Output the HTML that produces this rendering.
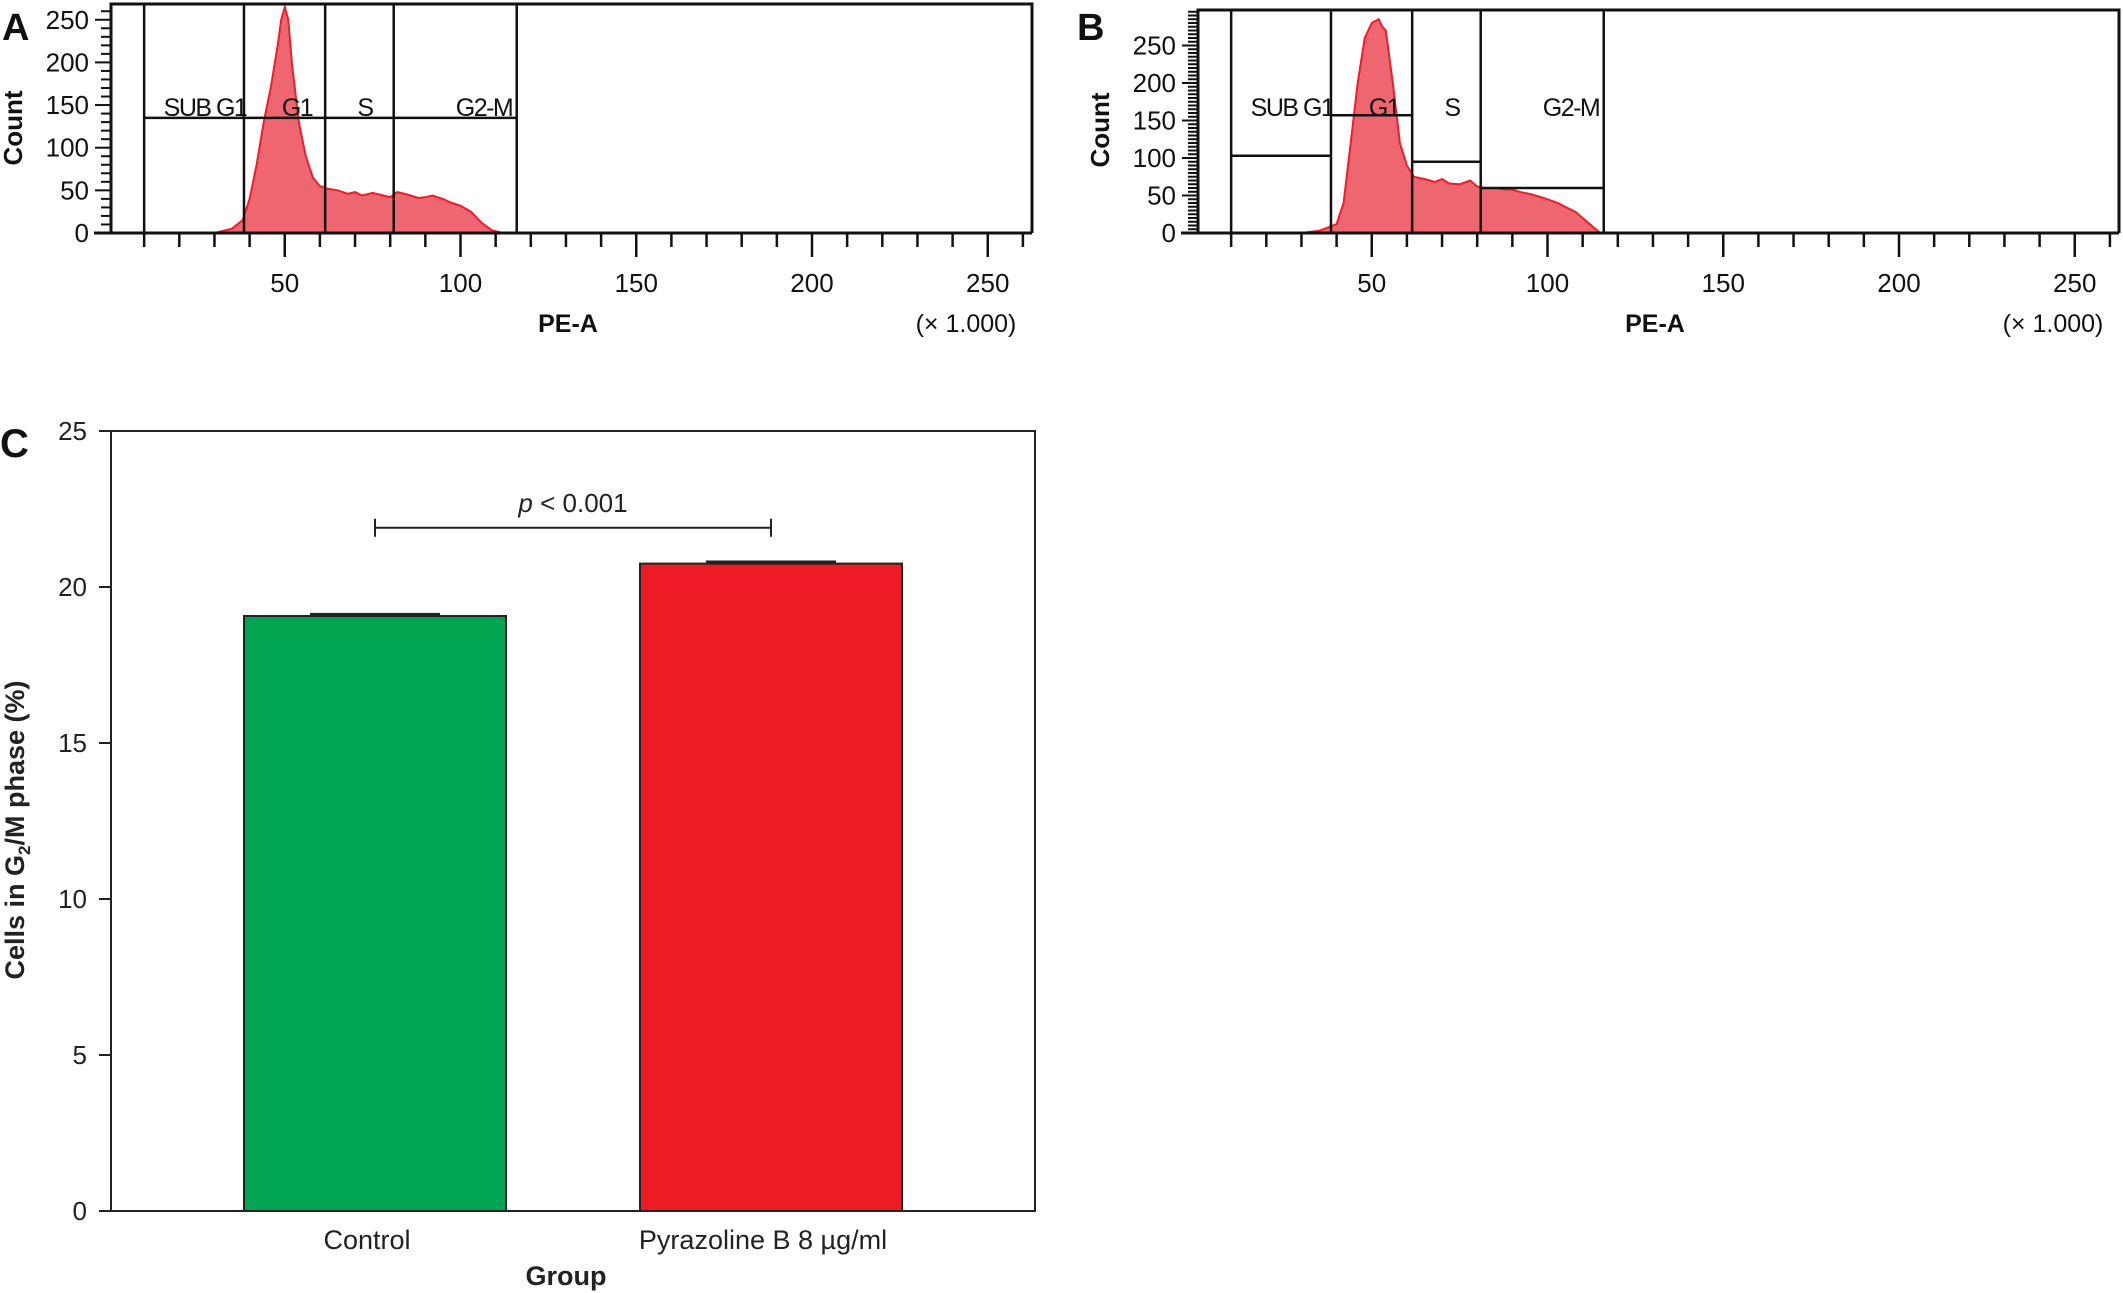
<!DOCTYPE html>
<html><head><meta charset="utf-8"><style>
html,body{margin:0;padding:0;background:#fff;}
svg{display:block;font-family:"Liberation Sans",sans-serif;}
</style></head><body>
<svg id="fig" width="2123" height="1293" viewBox="0 0 2123 1293" xmlns="http://www.w3.org/2000/svg">
<g id="pA"></g>
<g id="pB"></g>
<g id="pC"></g>
</svg>
<script>
// ---- Histogram data ----
const histAX = [30,35,38,40,42,44,46,48,49,50,51,52,54,56,58,60,62,65,68,70,72,75,78,80,82,85,88,90,92,95,97,100,103,106,109,112];
const histAY = [0,5,15,40,80,130,170,220,250,265,250,200,130,90,65,55,52,50,46,48,44,47,44,42,48,45,41,42,44,40,36,32,25,12,3,0];
const histBX = [30,35,38,40,42,44,46,48,50,52,53,54,56,58,60,62,65,68,70,72,75,78,80,82,85,88,90,92,95,98,100,103,105,108,110,113,115];
const histBY = [0,3,8,12,40,120,200,260,280,285,275,270,200,120,90,75,72,68,72,66,65,70,62,60,60,58,58,55,52,48,45,40,35,28,20,8,0];
const gateA = [10,38.4,61.5,81,116];
const gateBLevels = [103,157,95,60];
const xTickLabels = [50,100,150,200,250];
const yTickA = [0,50,100,150,200,250];
// ---- Bar chart data ----
const categories = ["Control","Pyrazoline B 8 µg/ml"];
const barValues = [19.07,20.75];
const barErrors = [0.1,0.1];
const barColors = ["#00a651","#ed1c24"];
const yTicksC = [0,5,10,15,20,25];
const sigLevel = 21.9;

const NS="http://www.w3.org/2000/svg";
function mk(parent,tag,attrs,text){const e=document.createElementNS(NS,tag);for(const k in attrs)e.setAttribute(k,attrs[k]);if(text!==undefined)e.textContent=text;parent.appendChild(e);return e;}

function hist(gid,ox,hx,hy,yPerUnit,ymaxVal,gateLevels,letter){
  const g=document.getElementById(gid);
  const base=233, top= gid==='pA'?4:10;
  const X=v=>ox+109+v*3.515;
  const Y=v=>base-v*yPerUnit;
  const frameL=ox+111, frameR=ox+1032;
  let t=mk(g,'text',{x:ox+(gid==='pA'?2:-10),y:40,'font-size':38,'font-weight':'bold',fill:'#111'},letter);
  
  let d='M'+X(hx[0])+','+Y(0);
  for(let i=0;i<hx.length;i++)d+=' L'+X(hx[i]).toFixed(1)+','+Y(hy[i]).toFixed(1);
  d+=' L'+X(hx[hx.length-1])+','+Y(0)+'Z';
  let p=mk(g,'path',{d:d,fill:'#ee6670',stroke:'#e8202c','stroke-width':2});
  
  let fr=mk(g,'polyline',{points:`${frameL},${base} ${frameL},${top} ${frameR},${top} ${frameR},${base}`,fill:'none',stroke:'#111','stroke-width':3});
  
  gateA.forEach(v=>{const l=mk(g,'line',{x1:X(v),x2:X(v),y1:top,y2:base,stroke:'#111','stroke-width':2.5});});
  for(let i=0;i<4;i++){const lv=gateLevels[i];const l=mk(g,'line',{x1:X(gateA[i]),x2:X(gateA[i+1]),y1:Y(lv),y2:Y(lv),stroke:'#111','stroke-width':2.5});}
  const names=['SUB G1','G1','S','G2-M'];const lx=[ox+205,ox+297,ox+365,ox+484];
  names.forEach((n,i)=>{const e=mk(g,'text',{x:lx[i],y:116,'font-size':25,'text-anchor':'middle',fill:'#111','letter-spacing':-1.5},n);});
  const ax=mk(g,'line',{x1:ox+94,x2:frameR,y1:base,y2:base,stroke:'#111','stroke-width':3});
  for(let v=10;v<=260;v+=10){const maj=v%50===0;const l=mk(g,'line',{x1:X(v),x2:X(v),y1:base,y2:base+(maj?24:14),stroke:'#111','stroke-width':2.5});}
  xTickLabels.forEach(v=>{const e=mk(g,'text',{x:X(v),y:292,'font-size':26,'text-anchor':'middle',fill:'#111'},v);});
  const step= gid==='pA'?10:5;
  for(let v=0;v<=ymaxVal;v+=step){const maj=v%50===0;const l=mk(g,'line',{x1:frameL-(maj?16:10),x2:frameL,y1:Y(v),y2:Y(v),stroke:'#111','stroke-width':2});}
  yTickA.forEach(v=>{const e=mk(g,'text',{x:ox+89,y:Y(v)+9,'font-size':26,'text-anchor':'end',fill:'#111'},v);});
  let e=mk(g,'text',{x:ox+568,y:332,'font-size':25,'font-weight':'bold','text-anchor':'middle',fill:'#111'},'PE-A');
  e=mk(g,'text',{x:ox+966,y:332,'font-size':25,'text-anchor':'middle',fill:'#111'},'(× 1.000)');
  e=mk(g,'text',{x:0,y:0,'font-size':26,'font-weight':'bold','text-anchor':'middle',fill:'#111',transform:`translate(${ox+22},${gid==='pA'?128:130}) rotate(-90)`},'Count');
}
hist('pA',0,histAX,histAY,0.853,260,[135,135,135,135],'A');
hist('pB',1087,histBX,histBY,0.75,295,gateBLevels,'B');

// ---- Panel C ----
(function(){
  const g=document.getElementById('pC');
  const L=111,R=1035,T=431,B=1211;
  const Y=v=>B-(v/25)*(B-T);
  const barW=262, centers=[375,771];
  let e=mk(g,'text',{x:0,y:457,'font-size':40,'font-weight':'bold',fill:'#111'},'C');
  const fr=mk(g,'rect',{x:L,y:T,width:R-L,height:B-T,fill:'none',stroke:'#222','stroke-width':2});
  yTicksC.forEach(v=>{const l=mk(g,'line',{x1:L-12,x2:L,y1:Y(v),y2:Y(v),stroke:'#222','stroke-width':2});
    const t=mk(g,'text',{x:L-24,y:Y(v)+9,'font-size':26,'text-anchor':'end',fill:'#222'},v);});
  categories.forEach((c,i)=>{
    const cx=centers[i];
    const er=mk(g,'rect',{x:cx-65,y:Y(barValues[i]+barErrors[i]),width:130,height:Y(barValues[i])-Y(barValues[i]+barErrors[i])+1,fill:'#222'});
    const r=mk(g,'rect',{x:cx-barW/2,y:Y(barValues[i]),width:barW,height:B-Y(barValues[i]),fill:barColors[i],stroke:'#222','stroke-width':2});
    
    const t=mk(g,'text',{x:cx-8,y:1249,'font-size':27,'text-anchor':'middle',fill:'#222'},c);
  });
  const sy=Y(sigLevel);
  const s=mk(g,'path',{d:`M${centers[0]},${sy-9}V${sy+9}M${centers[0]},${sy}H${centers[1]}M${centers[1]},${sy-9}V${sy+9}`,stroke:'#222','stroke-width':2,fill:'none'});
  e=mk(g,'text',{x:573,y:512,'font-size':26,'text-anchor':'middle',fill:'#222'});
  mk(e,'tspan',{'font-style':'italic'},'p');mk(e,'tspan',{},' < 0.001');
  e=mk(g,'text',{x:566,y:1285,'font-size':27,'font-weight':'bold','text-anchor':'middle',fill:'#222'},'Group');
  e=mk(g,'text',{x:0,y:0,'font-size':27,'font-weight':'bold','text-anchor':'middle',fill:'#222',transform:'translate(24,830) rotate(-90)'});
  mk(e,'tspan',{},'Cells in G');mk(e,'tspan',{'font-size':17,dy:6},'2');mk(e,'tspan',{dy:-6},'/M phase (%)');
})();
</script>
</body></html>
